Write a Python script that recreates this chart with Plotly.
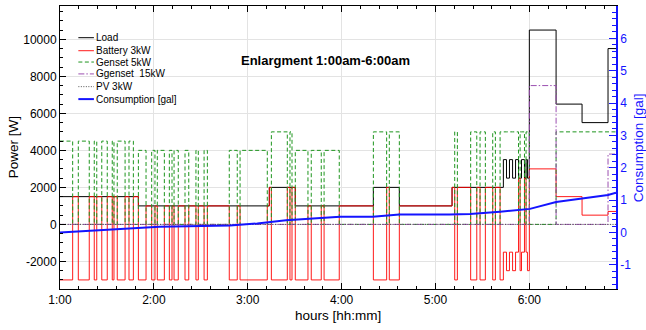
import plotly.graph_objects as go

# ---------------- data (time in minutes after midnight) ----------------
t_edges = [60.0, 68.1, 71.7, 78.7, 81.9, 83.5, 86.7, 90.2, 93.4, 94.5, 96.6, 101.6, 104.1, 106.9,
           110.1, 115.0, 118.6, 120.7, 122.2, 126.7, 129.9, 131.6, 132.9, 135.6, 139.9, 142.3,
           146.9, 148.4, 152.1, 154.2, 168.2, 173.3, 175.1, 192.5, 193.8, 195.1, 205.3, 207.0,
           208.3, 210.4, 218.5, 220.6, 227.0, 228.8, 238.5, 260.3, 268.8, 270.5, 276.9, 310.6,
           312.3, 314.0, 322.5, 326.4, 328.5, 331.9, 336.6, 338.3, 341.3, 343.4, 345.4, 347.3,
           349.3, 351.2, 353.1, 354.1, 355.0, 356.9, 357.9, 358.8, 360.0, 377.1, 393.7, 410.3, 416.0]

load = [1500, 1500, 1500, 1500, 1500, 1500, 1500, 1500, 1500, 1500, 1500, 1500, 1500, 1500,
        1000, 1000, 1000, 1000, 1000, 1000, 1000, 1000, 1000, 1000, 1000, 1000, 1000, 1000,
        1000, 1000, 1000, 1000, 1000, 1000,
        2000, 2000, 2000, 2000, 2000,
        1000, 1000, 1000, 1000, 1000, 1000,
        2000, 2000, 2000,
        1000,
        2000, 2000, 2000, 2000, 2000, 2000, 2000, 2000, 2000, 2000,
        3500, 2500, 3500, 2500, 3500, 2500, 2500, 3500, 2500, 3500, 2500,
        10500, 6500, 5500, 9500]

battery = [-3000, 1500, -3000, 1500, -3000, 1500, -3000, 1500, -3000, 1500, -3000, 1500, -3000, 1500,
           -3000, 1000, -3000, 1000, -3000, 1000, -3000, 1000, -3000, 1000, -3000, 1000, -3000, 1000,
           -3000, 1000, -3000, 1000, -3000, 1000,
           2000, -3000, 2000, -3000, 2000,
           -3000, 1000, -3000, 1000, -3000, 1000,
           -3000, 2000, -3000,
           1000,
           2000, -3000, 2000, -3000, 2000, -3000, 2000, -3000, 2000, -3000,
           -1500, -2500, -1500, -2500, -1500, 2500, -2500, -1500, 2500, -1500, -2500,
           3000, 1500, 500, 700]

genset5 = [4500, 0, 4500, 0, 4500, 0, 4500, 0, 4500, 0, 4500, 0, 4500, 0,
           4000, 0, 4000, 0, 4000, 0, 4000, 0, 4000, 0, 4000, 0, 4000, 0,
           4000, 0, 4000, 0, 4000, 0,
           0, 5000, 0, 5000, 0,
           4000, 0, 4000, 0, 4000, 0,
           5000, 0, 5000,
           0,
           0, 5000, 0, 5000, 0, 5000, 0, 5000, 0, 5000,
           5000, 5000, 5000, 5000, 5000, 0, 5000, 5000, 0, 5000, 5000,
           0, 5000, 5000, 5000]

genset15 = [0, 0, 0, 0, 0, 0, 0, 0, 0, 0, 0, 0, 0, 0,
            0, 0, 0, 0, 0, 0, 0, 0, 0, 0, 0, 0, 0, 0,
            0, 0, 0, 0, 0, 0,
            0, 0, 0, 0, 0,
            0, 0, 0, 0, 0, 0,
            0, 0, 0,
            0,
            0, 0, 0, 0, 0, 0, 0, 0, 0, 0,
            0, 0, 0, 0, 0, 0, 0, 0, 0, 0, 0,
            7500, 0, 0, 3800]

pv = [0, 0, 0, 0, 0, 0, 0, 0, 0, 0, 0, 0, 0, 0,
      0, 0, 0, 0, 0, 0, 0, 0, 0, 0, 0, 0, 0, 0,
      0, 0, 0, 0, 0, 0,
      0, 0, 0, 0, 0,
      0, 0, 0, 0, 0, 0,
      0, 0, 0,
      0,
      0, 0, 0, 0, 0, 0, 0, 0, 0, 0,
      0, 0, 0, 0, 0, 0, 0, 0, 0, 0, 0,
      0, 0, 0, 0]

cons_t = [60.0, 123.5, 168.7, 186.1, 204.5, 239.0, 259.9, 276.9, 308.9, 322.1, 341.3, 358.3, 360.4, 377.1, 410.3, 415.4]
cons_gal = [0.0, 0.18, 0.22, 0.28, 0.375, 0.49, 0.49, 0.56, 0.56, 0.57, 0.64, 0.71, 0.73, 0.94, 1.16, 1.23]

x_tickvals = [60, 120, 180, 240, 300, 360]
x_ticktext = ["1:00", "2:00", "3:00", "4:00", "5:00", "6:00"]
y_tickvals = [-2000, 0, 2000, 4000, 6000, 8000, 10000]
y_ticktext = ["-2000", "0", "2000", "4000", "6000", "8000", "10000"]
y2_tickvals = [-1, 0, 1, 2, 3, 4, 5, 6, 7]
y2_ticktext = ["-1", "0", "1", "2", "3", "4", "5", "6", "7"]

series_names = ["Load", "Battery 3kW", "Genset 5kW", "Ggenset  15kW", "PV 3kW", "Consumption [gal]"]
x_title = "hours [hh:mm]"
y_title = "Power [W]"
y2_title = "Consumption [gal]"
chart_title = "Enlargment 1:00am-6:00am"

# ---------------- styles ----------------
FONT = "Liberation Sans, Arial, Helvetica, sans-serif"
BLUE = "#1414ff"
styles = [
    dict(color="#000000", width=1, dash="solid"),
    dict(color="rgba(255,0,0,0.9)", width=1, dash="solid"),
    dict(color="#1e951e", width=1, dash="4px,2.5px"),
    dict(color="#9b4fb0", width=1, dash="6px,2px,1.5px,2px"),
    dict(color="#555555", width=1, dash="1px,1.5px"),
    dict(color=BLUE, width=2, dash="solid"),
]

fig = go.Figure()
step_series = [load, battery, genset5, genset15, pv]
for name, vals, st in zip(series_names[:5], step_series, styles[:5]):
    fig.add_trace(go.Scatter(x=t_edges, y=vals + [vals[-1]], mode="lines", name=name,
                             line=dict(shape="hv", **st), showlegend=False, hoverinfo="skip"))
fig.add_trace(go.Scatter(x=cons_t, y=cons_gal, mode="lines", name=series_names[5],
                         line=styles[5], yaxis="y2", showlegend=False))

# ---------------- hand-drawn legend (compact, like the original) ----------------
leg_y = [0.888, 0.842, 0.802, 0.760, 0.715, 0.671]
annotations = []
shapes = []
for name, st, yy in zip(series_names, styles, leg_y):
    shapes.append(dict(type="line", xref="paper", yref="paper", x0=0.033, x1=0.061, y0=yy, y1=yy,
                       line=dict(color=st["color"], width=st["width"], dash=st["dash"])))
    annotations.append(dict(text=name, xref="paper", yref="paper", x=0.062, y=yy,
                            xanchor="left", yanchor="middle", showarrow=False,
                            font=dict(size=10, color="#000", family=FONT)))
annotations.append(dict(text="<b>" + chart_title + "</b>", xref="paper", yref="paper",
                        x=0.478, y=0.809, xanchor="center", yanchor="middle", showarrow=False,
                        font=dict(size=13, color="#000", family=FONT)))
# axis titles
annotations.append(dict(text=x_title, xref="paper", yref="paper", x=0.5, y=-0.094,
                        xanchor="center", yanchor="middle", showarrow=False,
                        font=dict(size=13.5, color="#000", family=FONT)))
annotations.append(dict(text=y_title, xref="paper", yref="paper", x=-0.083, y=0.5, textangle=-90,
                        xanchor="center", yanchor="middle", showarrow=False,
                        font=dict(size=13.5, color="#000", family=FONT)))
annotations.append(dict(text=y2_title, xref="paper", yref="paper", x=1.041, y=0.5, textangle=-90,
                        xanchor="center", yanchor="middle", showarrow=False,
                        font=dict(size=13.5, color=BLUE, family=FONT)))

fig.update_layout(
    width=646, height=330,
    margin=dict(l=60, r=30, t=6, b=41),
    paper_bgcolor="white", plot_bgcolor="white",
    font=dict(family=FONT, size=12, color="#000"),
    showlegend=False,
    annotations=annotations,
    shapes=shapes,
    xaxis=dict(range=[60, 415.4], tickmode="array", tickvals=x_tickvals, ticktext=x_ticktext,
               showgrid=True, gridcolor="#e3e3e3", gridwidth=1, zeroline=False, automargin=False,
               ticks="inside", ticklen=6, tickcolor="#000", showline=True, linecolor="#000",
               linewidth=1, mirror="ticks",
               minor=dict(ticks="inside", dtick=12, tick0=60, ticklen=3, tickcolor="#000", showgrid=False)),
    yaxis=dict(range=[-3490, 11800], tickmode="array", tickvals=y_tickvals, ticktext=y_ticktext,
               showgrid=True, gridcolor="#e3e3e3", gridwidth=1, zeroline=False, automargin=False,
               ticks="inside", ticklen=6, tickcolor="#000", showline=True, linecolor="#000",
               linewidth=1,
               minor=dict(ticks="inside", dtick=500, tick0=0, ticklen=3, tickcolor="#000", showgrid=False)),
    yaxis2=dict(range=[-1.746, 7.0], overlaying="y", side="right", tickmode="array",
                tickvals=y2_tickvals, ticktext=y2_ticktext, showgrid=False, zeroline=False,
                automargin=False,
                ticks="inside", ticklen=7, tickcolor=BLUE, showline=True, linecolor=BLUE,
                linewidth=1.5, color=BLUE,
                minor=dict(ticks="inside", dtick=0.2, tick0=0, ticklen=4, tickcolor=BLUE, showgrid=False)),
)

fig.write_html("out.html")
